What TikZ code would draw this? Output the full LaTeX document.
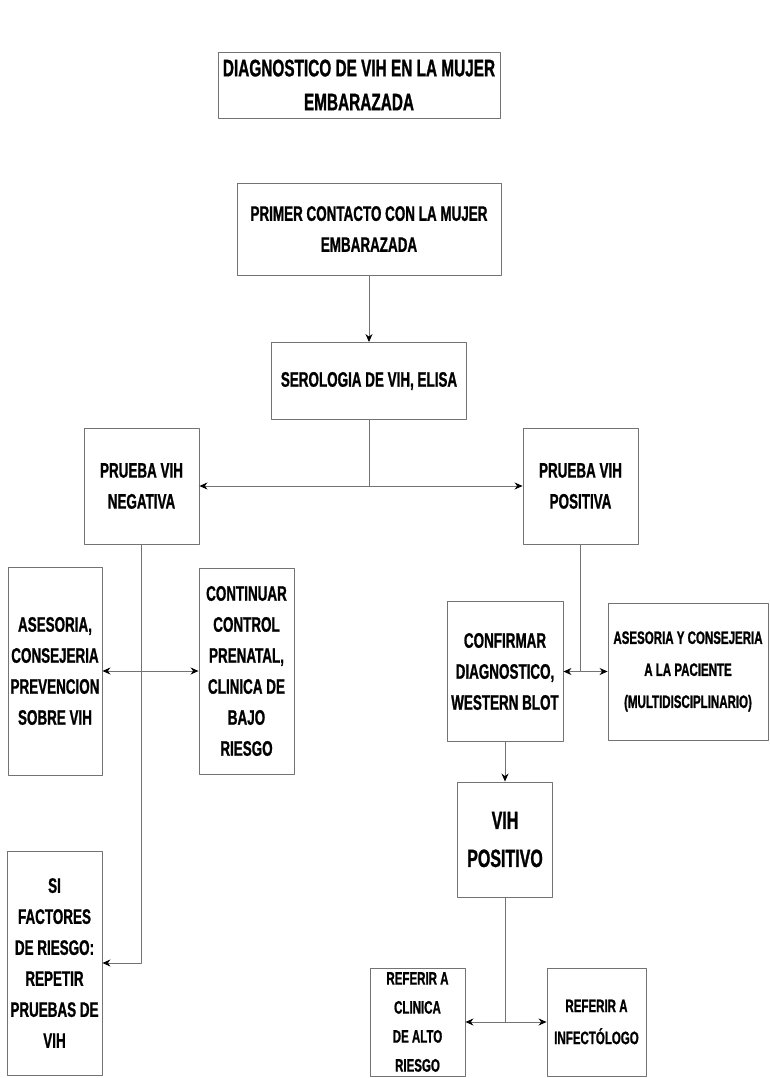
\documentclass[tikz,border=0pt]{standalone}
\usepackage{fontspec}
\usetikzlibrary{arrows.meta}
\newfontfamily\boxfont{Liberation Sans}[FakeStretch=0.64,FakeBold=1]
\begin{document}
\begin{tikzpicture}[x=1pt,y=-1pt,>={Stealth[length=8pt,width=7pt,black]},line join=round,line cap=round,
	caja/.style={draw=black!55,line width=0.9pt,align=center,inner sep=0pt,font=\boxfont\bfseries\fontsize{21}{31}\selectfont},
	grande/.style={font=\boxfont\bfseries\fontsize{24}{34}\selectfont},
	enorme/.style={font=\boxfont\bfseries\fontsize{25}{38}\selectfont},
	chica/.style={font=\boxfont\bfseries\fontsize{18}{32}\selectfont},
	mini/.style={font=\boxfont\bfseries\fontsize{18}{29}\selectfont},
	linea/.style={draw=black!55,line width=0.9pt}]
		\useasboundingbox (0,0) rectangle (770,1078);
		\node[caja,grande,minimum width=282,minimum height=66] (titulo) at (359,85) {DIAGNOSTICO DE VIH EN LA MUJER\\EMBARAZADA};
		\node[caja,minimum width=264,minimum height=92] (primer) at (369,229) {PRIMER CONTACTO CON LA MUJER\\EMBARAZADA};
		\node[caja,minimum width=195,minimum height=77] (sero) at (369,381) {SEROLOGIA DE VIH, ELISA};
		\node[caja,minimum width=115,minimum height=116] (neg) at (141.5,486) {PRUEBA VIH\\NEGATIVA};
		\node[caja,minimum width=115,minimum height=116] (pos) at (580.5,486) {PRUEBA VIH\\POSITIVA};
		\node[caja,minimum width=94,minimum height=208] (asesoria) at (55,671) {ASESORIA,\\CONSEJERIA\\PREVENCION\\SOBRE VIH};
		\node[caja,minimum width=95,minimum height=206] (control) at (246.5,671) {CONTINUAR\\CONTROL\\PRENATAL,\\CLINICA DE\\BAJO\\RIESGO};
		\node[caja,minimum width=95,minimum height=224] (factores) at (54.5,963) {SI\\FACTORES\\DE RIESGO:\\REPETIR\\PRUEBAS DE\\VIH};
		\node[caja,minimum width=116,minimum height=140] (confirmar) at (505,671.5) {CONFIRMAR\\DIAGNOSTICO,\\WESTERN BLOT};
		\node[caja,chica,minimum width=160,minimum height=137] (consejeria) at (688,671.5) {ASESORIA Y CONSEJERIA\\A LA PACIENTE\\(MULTIDISCIPLINARIO)};
		\node[caja,enorme,minimum width=95,minimum height=115] (vihpos) at (505,839.5) {VIH\\POSITIVO};
		\node[caja,mini,minimum width=95,minimum height=108] (clinica) at (417.5,1022) {REFERIR A\\CLINICA\\DE ALTO\\RIESGO};
		\node[caja,chica,minimum width=99,minimum height=108] (infecto) at (596.5,1022) {REFERIR A\\INFECTÓLOGO};
		
		\draw[linea,->] (primer.south) -- (sero.north);
		\draw[linea] (sero.south) -- (sero.south |- neg.east);
		\draw[linea,<->] (neg.east) -- (pos.west);
		\draw[linea,->] (neg.south) |- (factores.east);
		\draw[linea,<->] (asesoria.east) -- (control.west);
		\draw[linea] (pos.south) -- (pos.south |- confirmar.east);
		\draw[linea,<->] (confirmar.east) -- (consejeria.west);
		\draw[linea,->] (confirmar.south) -- (vihpos.north);
		\draw[linea] (vihpos.south) -- (vihpos.south |- clinica.east);
		\draw[linea,<->] (clinica.east) -- (infecto.west);
	\end{tikzpicture}
\end{document}
